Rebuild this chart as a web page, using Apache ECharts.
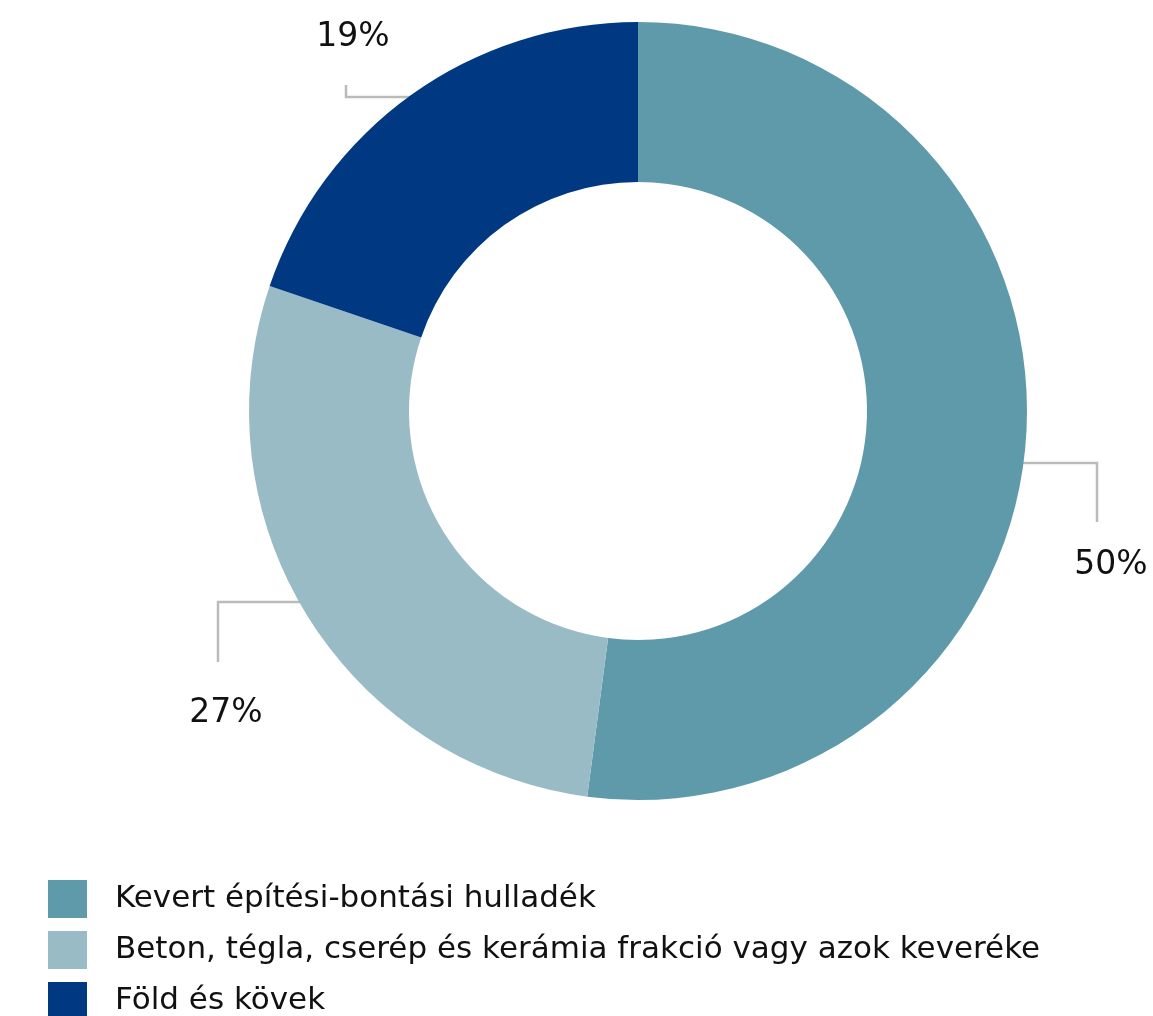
<!DOCTYPE html>
<html>
<head>
<meta charset="utf-8">
<script src="https://cdn.jsdelivr.net/npm/echarts@6/dist/echarts.min.js"></script>
<style>
  html, body { margin: 0; padding: 0; background: #fff; }
  #chart { width: 1153px; height: 1016px; }
</style>
</head>
<body>
<div id="chart"></div>
<script>
// adatok
const categories = [
  'Kevert építési-bontási hulladék',
  'Beton, tégla, cserép és kerámia frakció vagy azok keveréke',
  'Föld és kövek'
];
const values = [50, 27, 19];
const colors = ['#5e9aaa', '#99bbc5', '#003882'];

// kör geometria
const cx = 638, cy = 411, rOut = 389, rIn = 229;

// címke vonalak: vízszintes szakasz y-ja, törés x-e, vég y-ja, címke közepe
const leader = [
  { y: 463, corner: 1097, end: 522, lx: 1111, ly: 565 },
  { y: 602, corner: 218, end: 662, lx: 226, ly: 713 },
  { y: 97, corner: 346, end: 85, lx: 353, ly: 37 }
];

const chart = echarts.init(document.getElementById('chart'));

const option = {
  animation: false,
  color: colors,
  textStyle: { fontFamily: 'DejaVu Sans' },
  legend: {
    orient: 'vertical',
    left: 48,
    top: 880,
    height: 200,
    padding: 0,
    itemWidth: 39,
    itemHeight: 38,
    itemGap: 13,
    icon: 'rect',
    selectedMode: false,
    textStyle: {
      fontSize: 31,
      color: '#111',
      padding: [2, 0, 0, 23]
    },
    data: categories
  },
  series: [{
    type: 'pie',
    center: [cx, cy],
    radius: [rIn, rOut],
    startAngle: 90,
    clockwise: true,
    silent: true,
    itemStyle: { borderWidth: 0 },
    label: {
      show: true,
      position: 'outside',
      formatter: p => p.value + '%',
      fontSize: 33,
      color: '#111',
      overflow: 'none'
    },
    labelLine: {
      show: true,
      lineStyle: { color: '#bbbbbb', width: 2.5 }
    },
    labelLayout: params => {
      const l = leader[params.dataIndex];
      const dy = l.y - cy;
      const dx = Math.sqrt(rOut * rOut - dy * dy);
      const sx = l.corner > cx ? cx + dx - 2 : cx - dx + 2;
      return {
        x: l.lx,
        y: l.ly,
        align: 'center',
        verticalAlign: 'middle',
        labelLinePoints: [[sx, l.y], [l.corner, l.y], [l.corner, l.end]]
      };
    },
    data: categories.map((name, i) => ({ name: name, value: values[i] }))
  }]
};

chart.setOption(option);
</script>
</body>
</html>
